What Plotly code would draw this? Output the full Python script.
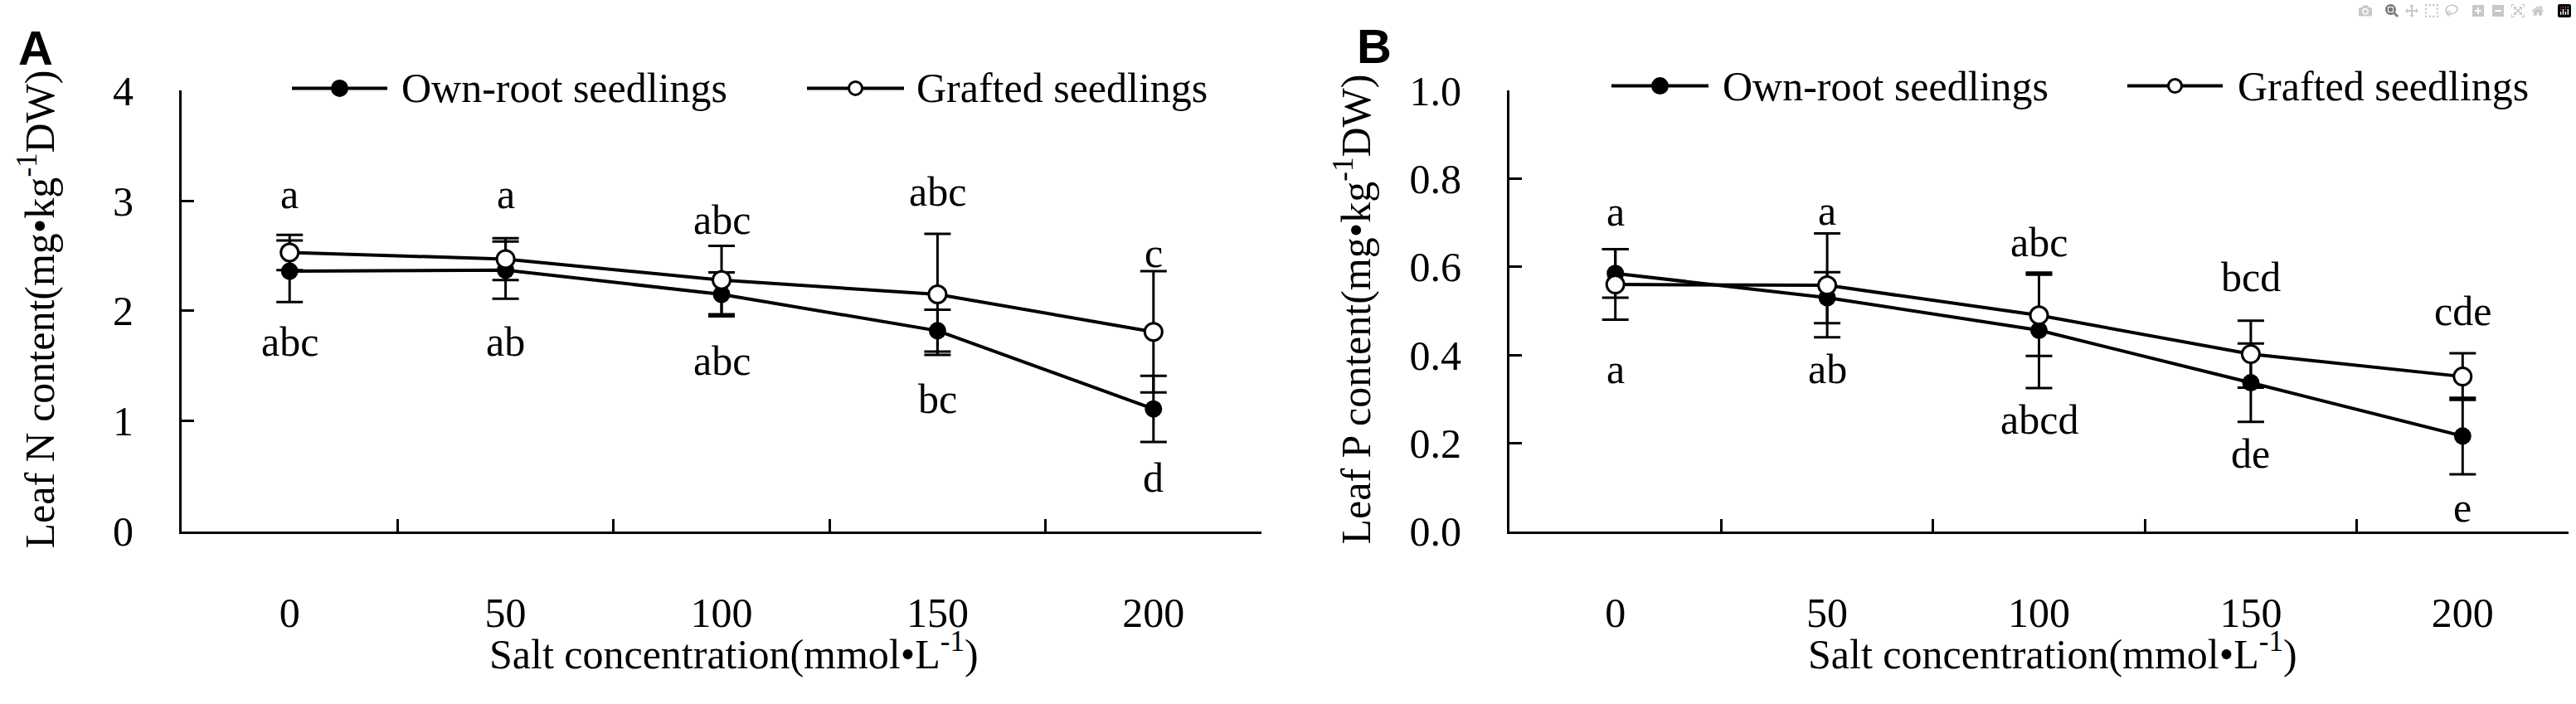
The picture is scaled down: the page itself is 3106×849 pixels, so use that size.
import plotly.graph_objects as go

W, H = 3106, 849

conc = ['0', '50', '100', '150', '200']

# A - leaf N content
n_own = [2.36, 2.37, 2.15, 1.82, 1.11]
n_own_err = [0.28, 0.26, 0.20, 0.19, 0.30]
n_graft = [2.53, 2.47, 2.28, 2.15, 1.81]
n_graft_err = [0.16, 0.19, 0.31, 0.55, 0.55]
n_lab_own = ['abc', 'ab', 'abc', 'bc', 'd']
n_lab_graft = ['a', 'a', 'abc', 'abc', 'c']
n_lab_own_y = [1.72, 1.72, 1.55, 1.20, 0.49]
n_lab_graft_y = [3.06, 3.06, 2.83, 3.08, 2.53]

# B - leaf P content
p_own = [0.585, 0.53, 0.456, 0.337, 0.216]
p_own_err = [0.055, 0.058, 0.131, 0.089, 0.087]
p_graft = [0.56, 0.558, 0.49, 0.402, 0.351]
p_graft_err = [0.08, 0.118, 0.092, 0.076, 0.053]
p_lab_own = ['a', 'ab', 'abcd', 'de', 'e']
p_lab_graft = ['a', 'a', 'abc', 'bcd', 'cde']
p_lab_own_y = [0.369, 0.369, 0.253, 0.177, 0.054]
p_lab_graft_y = [0.726, 0.727, 0.656, 0.577, 0.50]

names = ['Own-root seedlings', 'Grafted seedlings']

serif = 'Liberation Serif'
fsize = 50


def px(x):
    return x / W


def py(y):
    return 1 - y / H


fig = go.Figure()

panels = [
    ('x', 'y', n_own, n_own_err, n_graft, n_graft_err),
    ('x2', 'y2', p_own, p_own_err, p_graft, p_graft_err),
]
for xa, ya, own, own_e, gr, gr_e in panels:
    fig.add_trace(go.Scatter(
        x=conc, y=own, xaxis=xa, yaxis=ya, mode='lines+markers',
        line=dict(color='black', width=4),
        marker=dict(color='black', size=21),
        error_y=dict(type='data', array=own_e, color='black', thickness=3, width=16),
        showlegend=False))
    fig.add_trace(go.Scatter(
        x=conc, y=gr, xaxis=xa, yaxis=ya, mode='lines+markers',
        line=dict(color='black', width=4),
        marker=dict(color='white', size=21, line=dict(color='black', width=3)),
        error_y=dict(type='data', array=gr_e, color='black', thickness=3, width=16),
        showlegend=False))

tfont = dict(family=serif, size=fsize, color='black')

annots = []
labs = [
    ('x', 'y', n_lab_own, n_lab_own_y, n_lab_graft, n_lab_graft_y),
    ('x2', 'y2', p_lab_own, p_lab_own_y, p_lab_graft, p_lab_graft_y),
]
for xa, ya, lo, loy, lg, lgy in labs:
    for i in range(len(conc)):
        for t, yy in ((lo[i], loy[i]), (lg[i], lgy[i])):
            # category index as x position
            annots.append(dict(x=i, y=yy, xref=xa, yref=ya, text=t, showarrow=False,
                               xanchor='center', yanchor='middle', font=tfont))


def note(x, y, text, **kw):
    d = dict(x=px(x), y=py(y), xref='paper', yref='paper', text=text, showarrow=False,
             xanchor='center', yanchor='middle', font=tfont)
    d.update(kw)
    return d


# axis titles and panel letters
annots += [
    note(45, 371, 'Leaf N content(mg•kg<sup>-1</sup>DW)', textangle=-90),
    note(1632, 371, 'Leaf P content(mg•kg<sup>-1</sup>DW)', textangle=-90),
    note(885, 812, 'Salt concentration(mmol•L<sup>-1</sup>)'),
    note(2475, 812, 'Salt concentration(mmol•L<sup>-1</sup>)'),
    note(43, 33, '<b>A</b>', font=dict(family='Liberation Sans', size=58, color='black')),
    note(1657, 31, '<b>B</b>', font=dict(family='Liberation Sans', size=58, color='black')),
]

# hand-drawn legends (long line symbol like the original)
shapes = []
leg = [
    (85, [(352, 467, 482), (973, 1090, 1103)]),
    (82, [(1943, 2060, 2075), (2565, 2680, 2696)]),
]
for ly, items in leg:
    for k, (x0, x1, tx) in enumerate(items):
        shapes.append(dict(type='line', xref='paper', yref='paper', x0=px(x0), x1=px(x1),
                           y0=py(ly), y1=py(ly), line=dict(color='black', width=4)))
        r = 9 if k == 0 else 8
        shapes.append(dict(type='circle', xref='paper', yref='paper', xsizemode='pixel',
                           ysizemode='pixel', xanchor=px((x0 + x1) / 2), yanchor=py(ly),
                           x0=-r, x1=r, y0=-r, y1=r,
                           fillcolor='black' if k == 0 else 'white',
                           line=dict(color='black', width=3)))
        annots.append(note(tx, ly, names[k], xanchor='left'))

xcommon = dict(type='category', range=[-0.5, 4.5], tickson='boundaries', ticks='inside',
               ticklen=15, tickwidth=3, tickcolor='black', showline=True, linewidth=3,
               linecolor='black', showgrid=False, zeroline=False, ticklabelstandoff=52,
               tickfont=tfont)
ycommon = dict(ticks='inside', ticklen=15, tickwidth=3, tickcolor='black', showline=True,
               linewidth=3, linecolor='black', showgrid=False, zeroline=False,
               ticklabelstandoff=45, tickfont=tfont,
               domain=[py(657), py(88)])

fig.update_layout(
    width=W, height=H, autosize=False,
    margin=dict(l=0, r=0, t=0, b=0),
    paper_bgcolor='white', plot_bgcolor='white',
    xaxis=dict(xcommon, domain=[px(219), px(1521)], anchor='y'),
    xaxis2=dict(xcommon, domain=[px(1820), px(3097)], anchor='y2'),
    yaxis=dict(ycommon, range=[0, 4], dtick=1, anchor='x'),
    yaxis2=dict(ycommon, range=[0, 1.0], dtick=0.2, tickformat='.1f', anchor='x2'),
    annotations=annots,
    shapes=shapes,
    showlegend=False,
)

fig.write_html("out.html",
               post_script="document.body.style.margin='0';document.body.style.overflow='hidden';")
